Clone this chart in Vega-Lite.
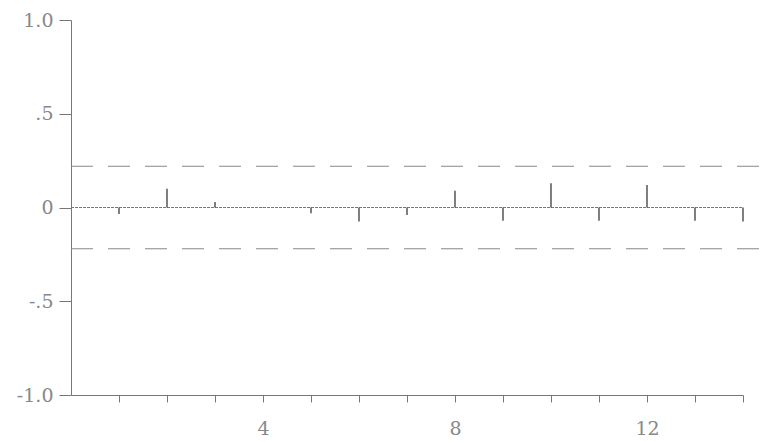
{
  "$schema": "https://vega.github.io/schema/vega-lite/v6.json",
  "width": 672,
  "height": 375,
  "autosize": {"type": "none"},
  "padding": {"left": 71, "top": 20, "right": 22, "bottom": 48},
  "background": "white",
  "config": {"view": {"stroke": null}},
  "datasets": {
    "acf": [
      {"lag": 1, "r": -0.035},
      {"lag": 2, "r": 0.1},
      {"lag": 3, "r": 0.03},
      {"lag": 4, "r": 0.003},
      {"lag": 5, "r": -0.03},
      {"lag": 6, "r": -0.075},
      {"lag": 7, "r": -0.04},
      {"lag": 8, "r": 0.09},
      {"lag": 9, "r": -0.07},
      {"lag": 10, "r": 0.13},
      {"lag": 11, "r": -0.07},
      {"lag": 12, "r": 0.12},
      {"lag": 13, "r": -0.07},
      {"lag": 14, "r": -0.075}
    ],
    "bounds": [
      {"x0": 0, "x1": 14.45, "b": 0.22},
      {"x0": 0, "x1": 14.45, "b": -0.22}
    ],
    "zero": [{"x0": 0, "x1": 14, "b": 0}]
  },
  "layer": [
    {
      "data": {"name": "bounds"},
      "mark": {"type": "rule", "color": "#888", "strokeWidth": 1, "strokeDash": [22, 15]},
      "encoding": {
        "x": {"field": "x0", "type": "quantitative", "scale": {"domain": [0, 14], "nice": false, "zero": false},
          "axis": {"values": [1,2,3,4,5,6,7,8,9,10,11,12,13,14], "labelExpr": "datum.value % 4 == 0 ? datum.label : ''", "grid": false, "title": null, "tickSize": 7, "labelPadding": 17, "domainColor": "#777", "tickColor": "#777", "labelColor": "#888", "labelFont": "DejaVu Serif", "labelFontSize": 19, "labelFontWeight": "normal"}},
        "x2": {"field": "x1"},
        "y": {"field": "b", "type": "quantitative", "scale": {"domain": [-1, 1], "nice": false},
          "axis": {"values": [-1, -0.5, 0, 0.5, 1], "labelExpr": "datum.value == 1 ? '1.0' : datum.value == 0.5 ? '.5' : datum.value == 0 ? '0' : datum.value == -0.5 ? '-.5' : '-1.0'", "grid": false, "title": null, "tickSize": 12, "labelPadding": 6, "domainColor": "#777", "tickColor": "#777", "labelColor": "#888", "labelFont": "DejaVu Serif", "labelFontSize": 19}}
      }
    },
    {
      "data": {"name": "zero"},
      "mark": {"type": "rule", "color": "#777", "strokeWidth": 1, "strokeDash": [3, 1]},
      "encoding": {
        "x": {"field": "x0", "type": "quantitative"},
        "x2": {"field": "x1"},
        "y": {"field": "b", "type": "quantitative"}
      }
    },
    {
      "data": {"name": "acf"},
      "mark": {"type": "rule", "color": "#555", "strokeWidth": 1.5},
      "encoding": {
        "x": {"field": "lag", "type": "quantitative"},
        "y": {"field": "r", "type": "quantitative"},
        "y2": {"datum": 0}
      }
    }
  ]
}
